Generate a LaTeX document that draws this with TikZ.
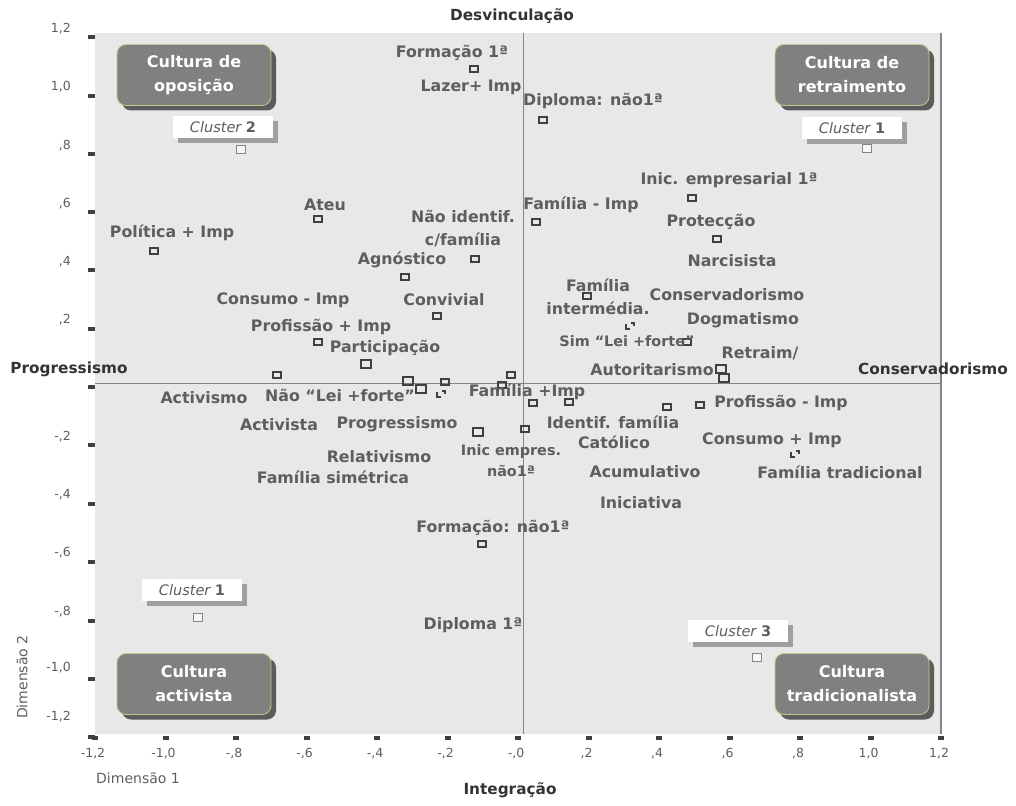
\documentclass[tikz,border=0pt]{standalone}
\usepackage{fontspec}
\setmainfont{DejaVu Sans}
\usetikzlibrary{shadows}

\definecolor{plotbg}{HTML}{E8E8E8}
\definecolor{axisgray}{HTML}{858585}
\definecolor{lblgray}{HTML}{5E5E5E}
\definecolor{titlegray}{HTML}{333333}
\definecolor{boxgray}{HTML}{808080}
\definecolor{boxline}{HTML}{C8C48C}
\definecolor{boxshadow}{HTML}{5C5C5C}
\definecolor{clshadow}{HTML}{A0A0A0}
\definecolor{tickgray}{HTML}{404040}

\tikzset{
  lbl/.style={text=lblgray, font=\fontsize{15.8}{23}\selectfont\bfseries, align=center, inner sep=0pt},
  lblsmall/.style={lbl, font=\fontsize{14.4}{21}\selectfont\bfseries},
  axtitle/.style={text=titlegray, font=\fontsize{15.3}{18}\selectfont\bfseries, inner sep=0pt},
  ticklbl/.style={text=lblgray, font=\fontsize{12.5}{14}\selectfont, inner sep=0pt},
  dimlbl/.style={text=lblgray, font=\fontsize{14}{16}\selectfont, inner sep=0pt},
  culture/.style={rounded corners=9pt, fill=boxgray, draw=boxline, line width=0.8pt, text=white,
    font=\fontsize{16}{24}\selectfont\bfseries, align=center, minimum width=154pt, minimum height=61pt,
    inner sep=0pt, drop shadow={shadow xshift=5pt, shadow yshift=-5pt, fill=boxshadow, opacity=1}},
  clusterbox/.style={fill=white, text=lblgray, font=\fontsize{14.5}{17}\selectfont, minimum width=100pt,
    minimum height=22pt, inner sep=0pt, drop shadow={shadow xshift=5pt, shadow yshift=-5pt, fill=clshadow, opacity=1}},
  mk/.style={draw=tickgray, line width=1.3pt, rectangle, minimum width=8pt, minimum height=6pt, inner sep=0pt},
  mkbold/.style={mk, line width=1.8pt, minimum width=10pt, minimum height=8pt},
  mkclus/.style={draw=axisgray, fill=white!60!plotbg, line width=1pt, rectangle, minimum width=9pt, minimum height=8pt, inner sep=0pt},
  brk/.style={draw=tickgray, line width=1.3pt},
}

\begin{document}
\begin{tikzpicture}[x=1pt,y=-1pt]
\useasboundingbox (0,0) rectangle (1016,805);

\coordinate (tl) at (95,33);
\coordinate (br) at (941,734);
\fill[color=plotbg] (tl) rectangle (br);
\draw[color=axisgray, line width=1pt] (523,33) -- (523,734);
\draw[color=axisgray, line width=1pt] (95,383) -- (941,383);
\draw[color=axisgray, line width=2pt] (941,33) -- (941,734);

\foreach \ty/\ly/\tx in {37/29/{1,2}, 96/87/{1,0}, 154/146/{,8}, 212/204/{,6}, 270/262/{,4}, 329/320/{,2}, 387/387/{}, 445/437/{-,2}, 504/495/{-,4}, 562/553/{-,6}, 621/612/{-,8}, 679/668/{-1,0}, 737/717/{-1,2}}{
  \fill[color=tickgray] (88,\ty-2) rectangle (95,\ty+2);
  \node[ticklbl, anchor=east] at (71,\ly) {\tx};
}
\foreach \tx/\tl in {95/{-1,2}, 165.5/{-1,0}, 236/{-,8}, 306.5/{-,6}, 377/{-,4}, 447.5/{-,2}, 518/{-,0}, 588.5/{,2}, 659/{,4}, 729.5/{,6}, 800/{,8}, 870.5/{1,0}, 941/{1,2}}{
  \fill[color=tickgray] (\tx-3,736) rectangle (\tx+3,740);
  \node[ticklbl] at (\tx-2,754) {\tl};
}

\node (dimx) at (138,778) [dimlbl] {Dimensão 1};
\node (dimy) at (22,677) [dimlbl, rotate=90] {Dimensão 2};

\node (desvinc) at (512,16) [axtitle] {Desvinculação};
\node (integr) at (510,790) [axtitle] {Integração};
\node (progr) at (69,369) [axtitle] {Progressismo};
\node (conserv) at (933,369) [axtitle] {Conservadorismo};

\node (oposicao) at (194,75) [culture] {Cultura de\\oposição};
\node (retraim) at (852,75) [culture] {Cultura de\\retraimento};
\node (activista) at (194,684) [culture] {Cultura\\activista};
\node (tradicional) at (852,684) [culture] {Cultura\\tradicionalista};

\node (cl2) at (223,127) [clusterbox] {{\itshape Cluster} {\bfseries 2}};
\node (cl1a) at (852,128) [clusterbox] {{\itshape Cluster} {\bfseries 1}};
\node (cl1b) at (192,590) [clusterbox] {{\itshape Cluster} {\bfseries 1}};
\node (cl3) at (738,631) [clusterbox] {{\itshape Cluster} {\bfseries 3}};
\node (c2pt) at (241,150) [mkclus] {};
\node (c1apt) at (867,149) [mkclus] {};
\node (c1bpt) at (198,617) [mkclus] {};
\node (c3pt) at (757,657) [mkclus] {};

\node (m1) at (474,69) [mk] {};
\node (m2) at (543,120) [mk] {};
\node (m3) at (536,222) [mk] {};
\node (m4) at (692,198) [mk] {};
\node (m5) at (717,239) [mk] {};
\node (m6) at (318,219) [mk] {};
\node (m7) at (154,251) [mk] {};
\node (m8) at (475,259) [mk] {};
\node (m9) at (405,277) [mk] {};
\node (m10) at (437,316) [mk] {};
\node (m11) at (587,296) [mk] {};
\node (m13) at (687,342) [mk] {};
\node (m14) at (318,342) [mk] {};
\node (m15) at (366,364) [mkbold] {};
\node (m16) at (277,375) [mk] {};
\node (m17) at (408,381) [mkbold] {};
\node (m18) at (421,389) [mkbold] {};
\node (m19) at (445,382) [mk] {};
\node (m21) at (511,375) [mk] {};
\node (m22) at (502,385) [mk] {};
\node (m23) at (533,403) [mk] {};
\node (m24) at (569,402) [mk] {};
\node (m25) at (478,432) [mkbold] {};
\node (m26) at (525,429) [mk] {};
\node (m27) at (667,407) [mk] {};
\node (m28) at (700,405) [mk] {};
\node (m30) at (721,369) [mkbold] {};
\node (m31) at (724,378) [mkbold] {};
\node (m32) at (482,544) [mk] {};
\draw[brk] (626,324) -- (626,329) -- (630,329) (631,323) -- (634,323) -- (634,326);
\draw[brk] (437,392) -- (437,397) -- (441,397) (442,391) -- (445,391) -- (445,394);
\draw[brk] (791,452) -- (791,457) -- (795,457) (796,451) -- (799,451) -- (799,454);

\node (formacao1) at (452,53) [lbl] {Formação 1ª};
\node (lazer) at (471,87) [lbl] {Lazer+ Imp};
\node (diplnao) at (593,101) [lbl] {Diploma: não1ª};
\node (famimp) at (581,205) [lbl] {Família - Imp};
\node (naoident) at (463,229) [lbl] {Não identif.\\c/família};
\node (ateu) at (325,205) [lbl] {Ateu};
\node (politica) at (172,233) [lbl] {Política + Imp};
\node (agnostico) at (402,260) [lbl] {Agnóstico};
\node (consumo) at (283,300) [lbl] {Consumo - Imp};
\node (convivial) at (444,300) [lbl] {Convivial};
\node (profmais) at (321,327) [lbl] {Profissão + Imp};
\node (particip) at (385,348) [lbl] {Participação};
\node (inicemp) at (729,180) [lbl] {Inic. empresarial 1ª};
\node (proteccao) at (711,222) [lbl] {Protecção};
\node (narcisista) at (732,261) [lbl] {Narcisista};
\node (famint) at (598,297) [lbl] {Família\\intermédia.};
\node (conservlbl) at (727,295) [lbl] {Conservadorismo};
\node (dogmat) at (743,320) [lbl] {Dogmatismo};
\node (simlei) at (627,341) [lblsmall] {Sim “Lei +forte”};
\node (retraimlbl) at (760,353) [lbl] {Retraim/};
\node (autorit) at (652,370) [lbl] {Autoritarismo};
\node (activismo) at (204,398) [lbl] {Activismo};
\node (naolei) at (340,395) [lbl] {Não “Lei +forte”};
\node (activistalbl) at (279,425) [lbl] {Activista};
\node (progrlbl) at (397,424) [lbl] {Progressismo};
\node (relat) at (379,457) [lbl] {Relativismo};
\node (famsim) at (333,477) [lbl] {Família simétrica};
\node (inicnao) at (511,461) [lblsmall] {Inic empres.\\não1ª};
\node (fammais) at (527,392) [lbl] {Família +Imp};
\node (identif) at (613,422) [lbl] {Identif. família};
\node (catolico) at (614,442) [lbl] {Católico};
\node (acumul) at (645,472) [lbl] {Acumulativo};
\node (inicia) at (641,503) [lbl] {Iniciativa};
\node (formnao) at (493,528) [lbl] {Formação: não1ª};
\node (profmenos) at (781,403) [lbl] {Profissão - Imp};
\node (consmais) at (772,440) [lbl] {Consumo + Imp};
\node (famtrad) at (840,472) [lbl] {Família tradicional};
\node (diploma1) at (473,625) [lbl] {Diploma 1ª};

\end{tikzpicture}
\end{document}
